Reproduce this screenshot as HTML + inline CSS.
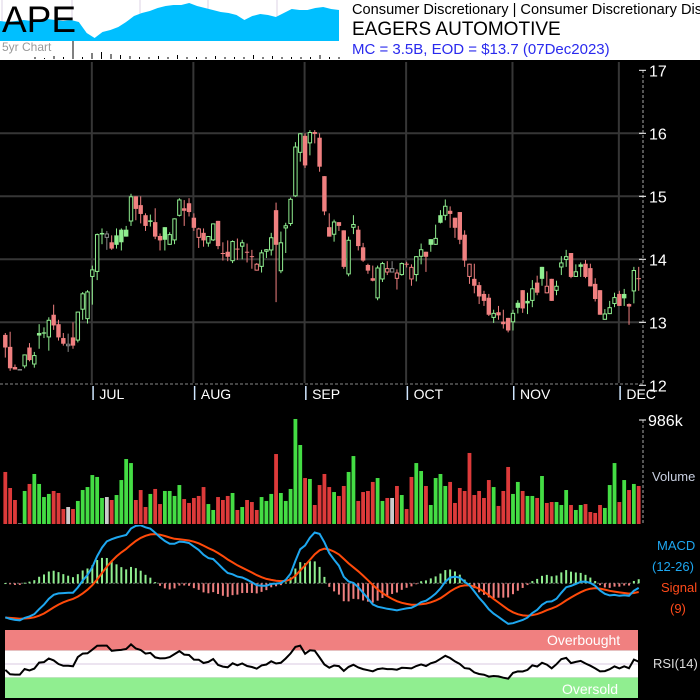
<!DOCTYPE html>
<html><head><meta charset="utf-8">
<style>
html,body{margin:0;padding:0;background:#fff;}
body{width:700px;height:700px;overflow:hidden;position:relative;font-family:"Liberation Sans",Arial,sans-serif;}
svg{position:absolute;left:0;top:0;}
text{font-family:"Liberation Sans",Arial,sans-serif;}
</style></head>
<body>
<svg id="chart" width="700" height="700" viewBox="0 0 700 700">
  <defs><clipPath id="macdClip"><rect x="0" y="525" width="642" height="104"/></clipPath></defs>
  <rect x="0" y="0" width="700" height="60" fill="#fff"/>
  <rect x="0" y="60" width="700" height="640" fill="#000"/>
  <g id="mini"></g>
  <text x="2" y="32" font-size="37" fill="#000">APE</text>
  <text x="2" y="51" font-size="12" fill="#999">5yr Chart</text>
  <text x="352" y="14" font-size="14.6" fill="#000">Consumer Discretionary | Consumer Discretionary Discretionary</text>
  <text x="352" y="35" font-size="19" fill="#000">EAGERS AUTOMOTIVE</text>
  <text x="352" y="54" font-size="15" fill="#2a2aee">MC = 3.5B, EOD = $13.7 (07Dec2023)</text>
  <g id="grid"></g>
  <g id="candles"></g>
  <g id="axis"></g>
  <g id="months"></g>
  <g id="vol"></g>
  <g id="macd" clip-path="url(#macdClip)"></g>
  <g id="rsi"></g>
  <text x="652" y="481" font-size="13" fill="#c8cfe0">Volume</text>
  <text x="657" y="550" font-size="13" fill="#1ea7f0">MACD</text>
  <text x="652" y="571" font-size="13" fill="#1ea7f0">(12-26)</text>
  <text x="661" y="592" font-size="13" fill="#ff4a1a">Signal</text>
  <text x="670" y="613" font-size="13" fill="#ff4a1a">(9)</text>
  <text x="653" y="668" font-size="13" fill="#ddd">RSI(14)</text>
</svg>
<script>
// ---- data ----
const opens  = [12.80,12.61,12.29,12.25,12.30,12.60,12.33,12.83,12.84,12.76,13.12,12.97,12.75,12.62,12.76,12.71,13.20,13.05,13.72,13.80,14.40,14.34,14.27,14.38,14.47,14.47,14.60,15.00,14.86,14.70,14.60,14.59,14.37,14.51,14.23,14.30,14.69,14.81,14.89,14.66,14.34,14.42,14.25,14.30,14.61,14.10,14.12,13.97,14.17,14.20,14.12,14.05,13.82,13.88,14.12,14.14,14.78,13.81,14.49,14.56,15.00,15.69,15.96,15.84,16.02,15.93,15.32,14.51,14.39,14.59,14.46,13.76,14.50,14.47,14.19,13.91,13.70,13.38,13.68,13.79,13.79,13.69,13.75,13.93,13.68,13.75,14.04,14.12,14.32,14.23,14.70,14.69,14.77,14.66,14.75,14.39,13.72,13.69,13.59,13.45,13.39,13.07,13.16,13.01,13.07,13.00,13.31,13.51,13.34,13.34,13.63,13.88,13.46,13.69,13.50,13.87,13.99,14.10,13.72,13.92,13.93,13.86,13.61,13.51,13.04,13.13,13.29,13.45,13.45,13.29,13.49,13.70];
const highs  = [12.83,12.85,12.33,12.26,12.49,12.67,12.53,12.97,12.92,13.08,13.28,13.04,12.83,12.82,13.00,13.17,13.48,13.51,13.90,14.41,14.49,14.45,14.38,14.49,14.49,14.53,15.04,15.00,15.00,14.73,14.71,14.81,14.41,14.51,14.43,14.65,14.97,14.94,14.97,14.73,14.50,14.49,14.37,14.57,14.61,14.27,14.30,14.30,14.33,14.31,14.25,14.15,13.94,14.15,14.16,14.42,14.90,14.44,14.58,14.98,15.86,16.00,16.00,16.05,16.05,16.00,15.32,14.73,14.63,14.59,14.46,14.36,14.70,14.53,14.26,13.93,13.90,13.90,13.96,13.97,13.97,13.84,13.95,13.96,13.92,14.05,14.25,14.12,14.32,14.55,14.78,14.95,14.84,14.66,14.75,14.46,13.93,13.93,13.64,13.50,13.45,13.20,13.26,13.20,13.07,13.20,13.35,13.51,13.47,13.67,13.74,13.88,13.81,13.69,13.66,14.05,14.15,14.10,13.92,13.95,13.99,13.93,13.70,13.51,13.21,13.34,13.47,13.50,13.53,13.30,13.88,13.88];
const lows   = [12.44,12.23,12.25,12.25,12.27,12.38,12.28,12.58,12.75,12.55,12.88,12.71,12.63,12.53,12.58,12.68,13.04,12.98,13.28,13.67,14.24,14.15,14.15,14.17,14.14,14.36,14.53,14.62,14.57,14.45,14.52,14.32,14.14,14.14,14.23,14.24,14.68,14.53,14.68,14.45,14.18,14.20,14.20,14.29,14.16,13.98,13.97,13.94,13.99,14.00,13.95,13.85,13.82,13.79,14.02,14.06,13.32,13.78,14.10,14.53,14.99,15.55,15.45,15.65,15.84,15.39,14.70,14.36,14.28,14.45,13.85,13.73,14.40,14.14,13.96,13.77,13.65,13.35,13.64,13.75,13.80,13.52,13.74,13.87,13.58,13.65,13.92,13.80,14.12,14.23,14.57,14.62,14.50,14.34,14.24,13.88,13.61,13.46,13.29,13.26,13.10,12.99,13.04,12.90,12.84,12.87,13.14,13.15,13.13,13.24,13.43,13.58,13.46,13.34,13.43,13.75,13.88,13.70,13.72,13.72,13.70,13.57,13.33,13.12,13.04,13.13,13.24,13.26,13.26,12.96,13.30,13.50];
const closes = [12.60,12.27,12.25,12.25,12.49,12.40,12.48,12.79,12.82,13.04,12.95,12.76,12.66,12.66,12.63,13.17,13.46,13.49,13.84,14.40,14.41,14.41,14.17,14.23,14.27,14.36,15.00,14.80,14.72,14.53,14.61,14.36,14.30,14.31,14.40,14.65,14.95,14.77,14.75,14.50,14.49,14.30,14.37,14.57,14.21,14.09,14.04,14.29,14.16,14.27,14.11,14.04,13.93,14.11,14.16,14.35,14.23,14.27,14.54,14.96,15.79,16.00,15.49,16.02,15.99,15.47,14.76,14.36,14.60,14.53,13.88,14.31,14.56,14.21,13.98,13.82,13.66,13.87,13.94,13.86,13.86,13.79,13.94,13.92,13.88,14.05,14.16,14.04,14.23,14.34,14.58,14.85,14.72,14.50,14.31,13.98,13.93,13.58,13.41,13.34,13.12,13.15,13.11,12.97,12.87,13.15,13.23,13.22,13.30,13.54,13.47,13.69,13.58,13.34,13.58,13.95,14.05,13.72,13.81,13.88,13.72,13.57,13.37,13.12,13.14,13.24,13.40,13.26,13.38,13.25,13.83,13.69];
const volumes = [490,339,226,5,311,377,471,377,254,283,311,292,141,160,141,217,320,348,461,443,245,254,226,273,414,612,574,226,320,160,283,330,188,311,311,264,367,235,198,245,264,348,188,132,254,226,264,292,132,160,226,207,132,254,217,283,659,292,217,330,989,744,433,424,179,367,471,348,301,264,358,490,640,217,301,311,396,433,217,245,245,358,273,141,443,574,499,358,179,433,471,358,396,198,339,311,669,273,311,245,414,348,170,311,537,283,396,311,264,264,245,452,198,207,207,179,320,179,132,179,188,113,104,179,151,367,574,207,414,320,377,358];
const priceTicks = [17,16,15,14,13,12];
const monthLabels = ["JUL","AUG","SEP","OCT","NOV","DEC"];
const monthStartIdx = [18,39,62,83,105,127];
const fiveYr = [19,18,19,20,19,20,21,20,19,20,18,7,2,8,10,13,18,24,27,29,32,34,35,35,37,34,32,30,28,27,25,20,24,26,25,23,27,31,30,30,32,33,31,30];
const fiveYrVol = [2,1,3,2,18,2,6,7,5,4,3,2,2,3,2,4,2,2,2,3,2,2,2,4,2,3,2,2,2,2,4,2,2];

// ---- scales ----
const N = closes.length;
const cx = i => 5.3 + i * (633.4 / (N - 1));
const py = v => 70.3 + (17 - v) * 63;
const vy = v => 524 - v / 986 * 104.7;
const ry = v => 698 - v * 0.68;
const NS = "http://www.w3.org/2000/svg";
function mk(parent, tag, attrs) {
  const e = document.createElementNS(NS, tag);
  for (const k in attrs) e.setAttribute(k, attrs[k]);
  parent.appendChild(e);
  return e;
}

// ---- mini 5yr chart ----
const mini = document.getElementById('mini');
const mx = i => i * (339 / (fiveYr.length - 1));
[2,72,140,208,277].forEach(x => {
  const l = mk(mini, 'line', {x1:x, y1:0, x2:x, y2:40, stroke:'#ddd3e6', 'stroke-width':1});
  
  
});
let d = 'M0,41 ' + fiveYr.map((v, i) => 'L' + mx(i).toFixed(1) + ',' + (40 - v)).join(' ') + ' L339,41 Z';
const area = mk(mini, 'path', {d: d, fill: '#00bfff'});


const vmx = i => 35 + i * (304 / (fiveYrVol.length - 1));
fiveYrVol.forEach((v, i) => {
  const b = mk(mini, 'line', {x1: vmx(i), y1: 59, x2: vmx(i), y2: 59 - v, stroke: '#000', 'stroke-width': 1});
  
  
});

// ---- grid ----
const grid = document.getElementById('grid');
priceTicks.forEach(t => {
  if (t === 17 || t === 12) return;
  const l = mk(grid, 'line', {x1: 0, x2: 642, y1: py(t), y2: py(t), stroke: '#363636', 'stroke-width': 2});
  
  
});
monthStartIdx.forEach(i => {
  const l = mk(grid, 'line', {x1: cx(i) - 0.5, x2: cx(i) - 0.5, y1: 62, y2: 383, stroke: '#363636', 'stroke-width': 2});
  
  
});
const bl = mk(grid, 'line', {x1: 0, x2: 643, y1: 384, y2: 384, stroke: '#888', 'stroke-width': 1, 'stroke-dasharray': '3,2'});



// ---- candles ----
const cg = document.getElementById('candles');
const GREEN = '#90ee90', RED = '#f08080', GREY = '#888';
for (let i = 0; i < N; i++) {
  const o = opens[i], h = highs[i], l = lows[i], c = closes[i];
  const prev = i > 0 ? closes[i - 1] : o;
  const col = c > prev ? GREEN : (c < prev ? RED : GREY);
  const g = mk(cg, 'g', {});
  
  
  const x = cx(i);
  mk(g, 'line', {x1: x, x2: x, y1: py(h), y2: py(l), stroke: col, 'stroke-width': 1});
  const top = py(Math.max(o, c)), bot = py(Math.min(o, c));
  const hh = Math.max(bot - top, 1);
  if (c < o) {
    mk(g, 'rect', {x: x - 2.2, y: top, width: 4.4, height: hh, fill: col});
  } else if (hh <= 1.2) {
    mk(g, 'rect', {x: x - 2.2, y: top - 0.5, width: 4.4, height: 1.5, fill: col});
  } else {
    mk(g, 'rect', {x: x - 1.7, y: top + 0.5, width: 3.4, height: hh - 1, fill: '#000', stroke: col, 'stroke-width': 1});
  }
}

// ---- axis ----
const ax = document.getElementById('axis');
const al = mk(ax, 'line', {x1: 643, x2: 643, y1: 70, y2: 385, stroke: '#aaa', 'stroke-width': 1, 'stroke-dasharray': '3,2'});


priceTicks.forEach(t => {
  const tk = mk(ax, 'line', {x1: 639, x2: 646, y1: py(t), y2: py(t), stroke: '#fff', 'stroke-width': 1});
  
  
  const tx = mk(ax, 'text', {x: 649, y: py(t) + 6, 'font-size': 16, fill: '#fff'});
  tx.textContent = String(t);
  
  
});

// ---- months ----
const mg = document.getElementById('months');
monthStartIdx.forEach((i, k) => {
  const x = cx(i);
  const b = mk(mg, 'rect', {x: x, y: 386, width: 1.5, height: 14, fill: '#cfe6ff'});
  
  
  const t = mk(mg, 'text', {x: x + 7, y: 399, 'font-size': 14, fill: '#fff'});
  t.textContent = monthLabels[k];
  
  
});

// ---- volume ----
const vg = document.getElementById('vol');
const VG = '#44dd44', VR = '#dd3a3a', VGR = '#cccccc';
for (let i = 0; i < N; i++) {
  const prev = i > 0 ? closes[i - 1] : opens[i];
  const col = closes[i] > prev ? VG : (closes[i] < prev ? VR : VGR);
  const r = mk(vg, 'rect', {x: cx(i) - 1.9, y: vy(volumes[i]), width: 3.8, height: 524 - vy(volumes[i]), fill: col});
  
  
}
const va = mk(vg, 'line', {x1: 643, x2: 643, y1: 420, y2: 525, stroke: '#aaa', 'stroke-width': 1, 'stroke-dasharray': '3,2'});


mk(vg, 'line', {x1: 639, x2: 646, y1: 420, y2: 420, stroke: '#fff', 'stroke-width': 1});
const vt = mk(vg, 'text', {x: 648, y: 426, 'font-size': 16, fill: '#fff'});
vt.textContent = '986k';



// ---- MACD (computed from closes) ----
const mgp = document.getElementById('macd');
let e12 = 12.72, e26 = 13.02, sig = -0.29;
const a12 = 2 / 13, a26 = 2 / 27, a9 = 2 / 10;
const macdV = [], sigV = [];
for (let i = 0; i < N; i++) {
  e12 += a12 * (closes[i] - e12);
  e26 += a26 * (closes[i] - e26);
  const m = e12 - e26;
  sig += a9 * (m - sig);
  macdV.push(m); sigV.push(sig);
}
const mMax = Math.max(...macdV, ...sigV);
const mMin = Math.min(...macdV, ...sigV);
const K = Math.min(58 / mMax, 44 / Math.abs(mMin));
const my = v => 583.3 - v * K;
const zl = mk(mgp, 'line', {x1: 5, x2: 640, y1: 583.3, y2: 583.3, stroke: '#666', 'stroke-width': 1, 'stroke-dasharray': '2,2'});


for (let i = 0; i < N; i++) {
  const hv = macdV[i] - sigV[i];
  const y = my(hv);
  const hb = mk(mgp, 'rect', {x: cx(i) - 1, y: Math.min(y, 583.3), width: 2, height: Math.max(Math.abs(583.3 - y), 1), fill: hv >= 0 ? '#90ee90' : '#f08080'});
  
  
}
const sl = mk(mgp, 'polyline', {points: sigV.map((v, i) => cx(i).toFixed(1) + ',' + my(v).toFixed(1)).join(' '), fill: 'none', stroke: '#ff4a0a', 'stroke-width': 2});


const ml = mk(mgp, 'polyline', {points: macdV.map((v, i) => cx(i).toFixed(1) + ',' + my(v).toFixed(1)).join(' '), fill: 'none', stroke: '#1ea7f0', 'stroke-width': 2});



// ---- RSI (computed from closes) ----
const rg = document.getElementById('rsi');
const ob = mk(rg, 'rect', {x: 5, y: ry(100), width: 633, height: ry(70) - ry(100), fill: '#f08080'});


const nb = mk(rg, 'rect', {x: 5, y: ry(70), width: 633, height: ry(30) - ry(70), fill: '#fff'});


const os = mk(rg, 'rect', {x: 5, y: ry(30), width: 633, height: ry(0) - ry(30), fill: '#90ee90'});


const mid = mk(rg, 'line', {x1: 5, x2: 638, y1: ry(50), y2: ry(50), stroke: '#d8c8e0', 'stroke-width': 1});


const obt = mk(rg, 'text', {x: 547, y: 645, 'font-size': 14, fill: '#fff'});
obt.textContent = 'Overbought';


const ost = mk(rg, 'text', {x: 562, y: 694, 'font-size': 14, fill: '#fff'});
ost.textContent = 'Oversold';


let ag = 0.06, alo = 0.085;
const rsiV = [];
for (let i = 0; i < N; i++) {
  const ch = i > 0 ? closes[i] - closes[i - 1] : 0;
  ag = (ag * 13 + Math.max(ch, 0)) / 14;
  alo = (alo * 13 + Math.max(-ch, 0)) / 14;
  rsiV.push(100 - 100 / (1 + ag / alo));
}
const rl = mk(rg, 'polyline', {points: rsiV.map((v, i) => cx(i).toFixed(1) + ',' + ry(v).toFixed(1)).join(' '), fill: 'none', stroke: '#000', 'stroke-width': 2});


</script>
</body></html>
